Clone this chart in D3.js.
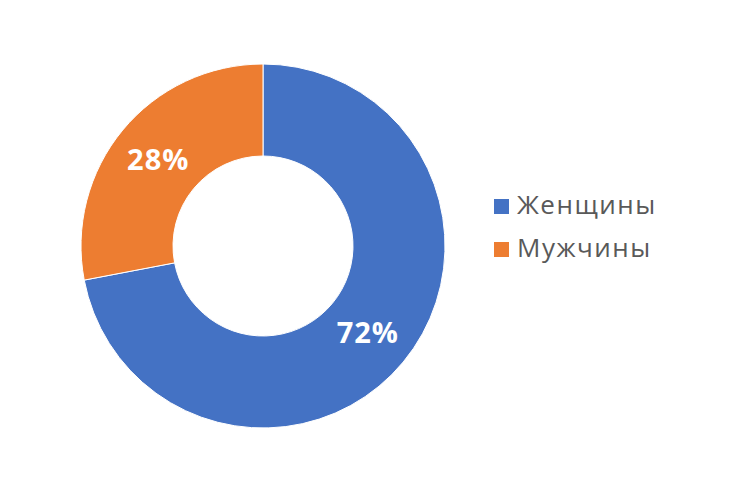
<!DOCTYPE html>
<html><head><meta charset="utf-8">
<script src="https://cdn.jsdelivr.net/npm/d3@7"></script>
<style>body{margin:0;background:#fff;}</style>
</head><body>
<svg id="c" width="736" height="490"></svg>
<script>
const categories = ["Женщины", "Мужчины"];
const values = [72, 28];
const colors = ["#4472C4", "#ED7D31"];

const svg = d3.select("#c");
const cx = 263, cy = 246, outerR = 182, innerR = 90;
const pie = d3.pie().sort(null).value(d => d.v);
const data = pie(categories.map((c, i) => ({c, v: values[i]})));
const arc = d3.arc().innerRadius(innerR).outerRadius(outerR);
const color = d3.scaleOrdinal().domain(categories).range(colors);

const g = svg.append("g").attr("transform", `translate(${cx},${cy})`);
g.selectAll("path").data(data).join("path")
  .attr("d", arc).attr("fill", d => color(d.data.c))
  .attr("stroke", "#fff").attr("stroke-width", 1);

const total = d3.sum(values);
g.selectAll("text").data(data).join("text")
  .attr("transform", d => `translate(${arc.centroid(d)})`)
  .attr("text-anchor", "middle").attr("dy", "0.36em")
  .attr("fill", "#fff").attr("font-family", "'Open Sans', sans-serif")
  .attr("font-weight", "bold").attr("font-size", 29).attr("letter-spacing", 1)
  .text(d => Math.round(d.data.v / total * 100) + "%");

const leg = svg.append("g").attr("transform", "translate(494,206.5)");
const items = leg.selectAll("g").data(categories).join("g")
  .attr("transform", (d, i) => `translate(0,${i * 43})`);
items.append("rect").attr("x", 0).attr("y", -7.5).attr("width", 15).attr("height", 15)
  .attr("fill", d => color(d));
items.append("text").attr("x", 23).attr("y", 7)
  .attr("fill", "#595959").attr("font-family", "'Open Sans', sans-serif")
  .attr("font-size", 26).attr("letter-spacing", 1.5).text(d => d);
</script>
</body></html>
